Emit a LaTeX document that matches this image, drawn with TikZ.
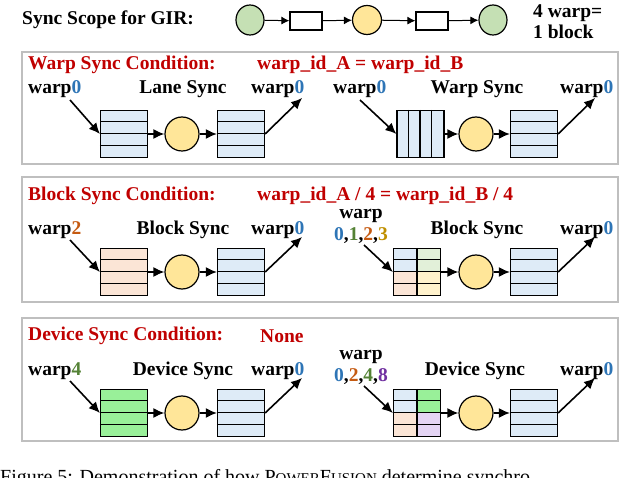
\documentclass[tikz,border=0pt]{standalone}
\usepackage{fontspec}
\setmainfont{Liberation Serif}
\usetikzlibrary{arrows.meta}
\usetikzlibrary{shapes.geometric}
\definecolor{tred}{HTML}{C00000}
\definecolor{wblue}{HTML}{2E75B6}
\definecolor{wgreen}{HTML}{548235}
\definecolor{worange}{HTML}{C55A11}
\definecolor{wgold}{HTML}{BF8F00}
\definecolor{wpurple}{HTML}{7030A0}
\definecolor{fblue}{HTML}{DEEBF7}
\definecolor{forange}{HTML}{FBE5D6}
\definecolor{fgreen}{HTML}{E2F0D9}
\definecolor{fyellow}{HTML}{FFF2CC}
\definecolor{fbright}{HTML}{99F099}
\definecolor{fpurple}{HTML}{E4D4F4}
\definecolor{cgreen}{HTML}{C5E0B4}
\definecolor{cyellow}{HTML}{FFE699}
\tikzset{
  txt/.style={font=\fontsize{19.5}{21}\selectfont\bfseries, inner sep=0pt},
  ttl/.style={txt, text=tred, anchor=west},
  panel/.style={draw=black!25, line width=2pt},
  sop/.style={circle, draw, line width=1.2pt, minimum width=34pt, inner sep=0pt},
  gsop/.style={ellipse, draw, line width=1.2pt, fill=cgreen, minimum width=28pt, minimum height=30pt, inner sep=0pt},
  box/.style={draw, line width=1.2pt, minimum width=32pt, minimum height=18pt, inner sep=0pt},
  blk/.style={draw, line width=1.2pt, minimum width=47pt, minimum height=47pt, inner sep=0pt},
  arr/.style={line width=1.6pt, -{Latex[length=11pt,width=10pt]}},
  sarr/.style={line width=1pt, -{Latex[length=8pt,width=8pt]}},
}
% 4-row block: name, x, y (centre), four row fills
\newcommand\rowblk[7]{
  \foreach \c [count=\i] in {#4,#5,#6,#7}
    \fill[\c] (#2-23.5,#3-23.5+11.75*\i-11.75) rectangle (#2+23.5,#3-23.5+11.75*\i);
  \node[blk] (#1) at (#2,#3) {};
  \foreach \i in {1,2,3}
    \draw[line width=1.2pt] (#1.north west) ++(0,11.75*\i) -- ++(47,0);
}
% 2x4 grid block: name, x, y, left fill top/bottom, right fills (4)
\newcommand\gridblk[9]{
  \fill[#4] (#2-23.5,#3-23.5) rectangle (#2,#3);
  \fill[#5] (#2-23.5,#3) rectangle (#2,#3+23.5);
  \foreach \c [count=\i] in {#6,#7,#8,#9}
    \fill[\c] (#2,#3-23.5+11.75*\i-11.75) rectangle (#2+23.5,#3-23.5+11.75*\i);
  \node[blk] (#1) at (#2,#3) {};
  \foreach \i in {1,2,3}
    \draw[line width=1.2pt] (#1.north west) ++(0,11.75*\i) -- ++(47,0);
  \draw[line width=1.2pt] (#1.north) -- (#1.south);
}
\begin{document}
\begin{tikzpicture}[x=1pt,y=-1pt]
\useasboundingbox (0,0) rectangle (640,478);
\clip (0,0) rectangle (640,478);

% top scope line
\node[txt, anchor=west] (scope) at (22,20) {Sync Scope for GIR:};
\node[gsop] (g1) at (250,20) {};
\node[box] (b1) at (306,21) {};
\node[sop, fill=cyellow, minimum width=29pt] (y1) at (367,20) {};
\node[box] (b2) at (432,21) {};
\node[gsop] (g2) at (493,20) {};
\draw[sarr] (g1) -- (b1);
\draw[sarr] (b1) -- (y1);
\draw[sarr] (y1) -- (b2);
\draw[sarr] (b2) -- (g2);
\node[txt, align=left, anchor=west] (note) at (533,22) {4 warp=\\1 block};

% panel 1
\draw[panel] (22,52) rectangle (618,164);
\node[ttl] (t1) at (28,65) {Warp Sync Condition:};
\node[ttl] (c1) at (257,65) {warp\_id\_A = warp\_id\_B};
\node[txt, anchor=west] (l1a) at (28,89) {warp\textcolor{wblue}{0}};
\node[txt] (l1b) at (183,89) {Lane Sync};
\node[txt, anchor=west] (l1c) at (251,89) {warp\textcolor{wblue}{0}};
\node[txt, anchor=west] (l1d) at (333,89) {warp\textcolor{wblue}{0}};
\node[txt] (l1e) at (477,89) {Warp Sync};
\node[txt, anchor=west] (l1f) at (560,89) {warp\textcolor{wblue}{0}};
\rowblk{a1}{124}{134}{fblue}{fblue}{fblue}{fblue}
\node[sop, fill=cyellow] (s1) at (182,134) {};
\rowblk{a2}{241}{134}{fblue}{fblue}{fblue}{fblue}
\fill[fblue] (397,110.5) rectangle (444,157.5);
\node[blk] (a3) at (420.5,134) {};
\foreach \i in {1,2,3} \draw[line width=1.2pt] (a3.north west) ++(11.75*\i,0) -- ++(0,47);
\node[sop, fill=cyellow] (s2) at (476,134) {};
\rowblk{a4}{534}{134}{fblue}{fblue}{fblue}{fblue}
\coordinate (i1) at (70,100);
\coordinate (o1) at (302,98);
\coordinate (i2) at (360,100);
\coordinate (o2) at (595,98);
\draw[arr] (i1) -- (a1.west);
\draw[arr] (a1) -- (s1);
\draw[arr] (s1) -- (a2);
\draw[arr] (a2.east) -- (o1);
\draw[arr] (i2) -- (a3.west);
\draw[arr] (a3) -- (s2);
\draw[arr] (s2) -- (a4);
\draw[arr] (a4.east) -- (o2);

% panel 2
\draw[panel] (22,177) rectangle (618,302);
\node[ttl] (t2) at (28,196) {Block Sync Condition:};
\node[ttl] (c2) at (257,196) {warp\_id\_A / 4 = warp\_id\_B / 4};
\node[txt, anchor=west] (l2a) at (28,230) {warp\textcolor{worange}{2}};
\node[txt] (l2b) at (183,230) {Block Sync};
\node[txt, anchor=west] (l2c) at (251,230) {warp\textcolor{wblue}{0}};
\node[txt] (l2d) at (361,216) {warp};
\node[txt] (l2e) at (361,236) {\textcolor{wblue}{0},\textcolor{wgreen}{1},\textcolor{worange}{2},\textcolor{wgold}{3}};
\node[txt] (l2f) at (477,230) {Block Sync};
\node[txt, anchor=west] (l2g) at (560,230) {warp\textcolor{wblue}{0}};
\rowblk{d1}{124}{272}{forange}{forange}{forange}{forange}
\node[sop, fill=cyellow] (s3) at (182,272) {};
\rowblk{d2}{241}{272}{fblue}{fblue}{fblue}{fblue}
\gridblk{d3}{417}{272}{fblue}{forange}{fgreen}{fgreen}{fyellow}{fyellow}
\node[sop, fill=cyellow] (s4) at (476,272) {};
\rowblk{d4}{534}{272}{fblue}{fblue}{fblue}{fblue}
\coordinate (i3) at (70,240);
\coordinate (o3) at (302,237);
\coordinate (i4) at (364,245);
\coordinate (o4) at (595,237);
\draw[arr] (i3) -- (d1.west);
\draw[arr] (d1) -- (s3);
\draw[arr] (s3) -- (d2);
\draw[arr] (d2.east) -- (o3);
\draw[arr] (i4) -- (d3.west);
\draw[arr] (d3) -- (s4);
\draw[arr] (s4) -- (d4);
\draw[arr] (d4.east) -- (o4);

% panel 3
\draw[panel] (22,318) rectangle (618,441);
\node[ttl] (t3) at (28,336) {Device Sync Condition:};
\node[ttl] (c3) at (260,336) {None};
\node[txt, anchor=west] (l3a) at (28,371) {warp\textcolor{wgreen}{4}};
\node[txt] (l3b) at (183,371) {Device Sync};
\node[txt, anchor=west] (l3c) at (251,371) {warp\textcolor{wblue}{0}};
\node[txt] (l3d) at (361,357) {warp};
\node[txt] (l3e) at (361,377) {\textcolor{wblue}{0},\textcolor{worange}{2},\textcolor{wgreen}{4},\textcolor{wpurple}{8}};
\node[txt] (l3f) at (475,371) {Device Sync};
\node[txt, anchor=west] (l3g) at (560,371) {warp\textcolor{wblue}{0}};
\rowblk{e1}{124}{413}{fbright}{fbright}{fbright}{fbright}
\node[sop, fill=cyellow] (s5) at (182,413) {};
\rowblk{e2}{241}{413}{fblue}{fblue}{fblue}{fblue}
\gridblk{e3}{417}{413}{fblue}{forange}{fbright}{fbright}{fpurple}{fpurple}
\node[sop, fill=cyellow] (s6) at (476,413) {};
\rowblk{e4}{534}{413}{fblue}{fblue}{fblue}{fblue}
\coordinate (i5) at (70,381);
\coordinate (o5) at (302,378);
\coordinate (i6) at (364,386);
\coordinate (o6) at (595,378);
\draw[arr] (i5) -- (e1.west);
\draw[arr] (e1) -- (s5);
\draw[arr] (s5) -- (e2);
\draw[arr] (e2.east) -- (o5);
\draw[arr] (i6) -- (e3.west);
\draw[arr] (e3) -- (s6);
\draw[arr] (s6) -- (e4);
\draw[arr] (e4.east) -- (o6);

% caption (cut off at the bottom edge, as in the reference)
\node[anchor=base west, inner sep=0pt, font=\fontsize{20}{22}\selectfont] (cap) at (0,483)
  {Figure 5: Demonstration of how P{\fontsize{15}{16}\selectfont OWER}F{\fontsize{15}{16}\selectfont USION} determine synchro};
\end{tikzpicture}
\end{document}
